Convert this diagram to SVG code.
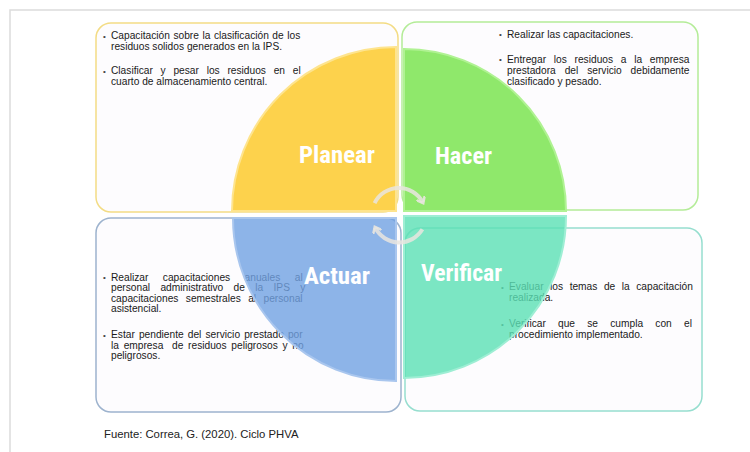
<svg xmlns="http://www.w3.org/2000/svg" width="750" height="452" viewBox="0 0 750 452">
<defs>
<style>
.box{fill:#fdfcfe;stroke-width:1.5}
.t{font-family:"Liberation Sans",Arial,sans-serif;font-size:10.2px;fill:#1a1a1a}
.b{font-family:"Liberation Sans",Arial,sans-serif;font-size:8px;fill:#444}
.lbl{font-family:"Liberation Sans Narrow","Roboto Condensed","Liberation Sans",Arial,sans-serif;font-weight:bold;font-size:23px;fill:#ffffff}
.arc{fill:none;stroke:#e9e5df;stroke-width:4;stroke-opacity:0.85}
.foot{font-family:"Liberation Sans",Arial,sans-serif;font-size:11.3px;fill:#222}
</style>
<marker id="ah" viewBox="0 0 10 10" refX="5" refY="5" markerWidth="10" markerHeight="10" markerUnits="userSpaceOnUse" orient="auto">
<path d="M1,1 L6,5 L1,9" fill="none" stroke="#e9e5df" stroke-opacity="0.9" stroke-width="2.5" stroke-linecap="round"/>
</marker>
</defs>
<rect width="750" height="452" fill="#ffffff"/>
<path d="M10,452 V10 H750" fill="none" stroke="#dcdcdc" stroke-width="1.5"/>

<g id="planear">
<rect class="box" x="96" y="23" width="302" height="189" rx="15" stroke="#f3dc85"/>
<text class="b" x="103" y="38.5">•</text>
<text class="t" x="111" y="39" word-spacing="0.7">Capacitación sobre la clasificación de los</text>
<text class="t" x="111" y="50">residuos solidos generados en la IPS.</text>
<text class="b" x="103" y="73.5">•</text>
<text class="t" x="111" y="74" word-spacing="4.9">Clasificar y pesar los residuos en el</text>
<text class="t" x="111" y="85">cuarto de almacenamiento central.</text>
<path d="M396,211 L232,211 A164,164 0 0 1 396,47 Z" fill="#fdd24c" stroke="#fee48e" stroke-width="2"/>
<text class="lbl" x="299" y="163" textLength="76" lengthAdjust="spacingAndGlyphs">Planear</text>
</g>

<g id="hacer">
<rect class="box" x="402" y="22" width="296" height="188" rx="15" stroke="#b4ec98"/>
<text class="b" x="499" y="37">•</text>
<text class="t" x="507" y="38">Realizar las capacitaciones.</text>
<text class="b" x="499" y="62">•</text>
<text class="t" x="507" y="63" word-spacing="4.9">Entregar los residuos a la empresa</text>
<text class="t" x="507" y="74" word-spacing="6.1">prestadora del servicio debidamente</text>
<text class="t" x="507" y="85">clasificado y pesado.</text>
<path d="M404,211 L404,49 A162,162 0 0 1 566,211 Z" fill="#8fe86b" stroke="#b0f293" stroke-width="2"/>
<text class="lbl" x="435" y="164" textLength="57" lengthAdjust="spacingAndGlyphs">Hacer</text>
</g>

<g id="actuar">
<rect class="box" x="96" y="218" width="305" height="194" rx="15" stroke="#9db3ce"/>
<text class="b" x="103" y="280">•</text>
<text class="t" x="111" y="280.5" word-spacing="11.6">Realizar capacitaciones anuales al</text>
<text class="t" x="111" y="291" word-spacing="7.5">personal administrativo de la IPS y</text>
<text class="t" x="111" y="301.5" word-spacing="4.6">capacitaciones semestrales al personal</text>
<text class="t" x="111" y="312">asistencial.</text>
<text class="b" x="103" y="337.5">•</text>
<text class="t" x="111" y="338" word-spacing="1.3">Estar pendiente del servicio prestado por</text>
<text class="t" x="111" y="348.5" word-spacing="1.9">la empresa <tspan dx="4">de residuos peligrosos y no</tspan></text>
<text class="t" x="111" y="359">peligrosos.</text>
<path d="M396,218 L396,381 A163,163 0 0 1 233,218 Z" fill="#70a1e2" fill-opacity="0.8" stroke="#a9c6ee" stroke-width="2"/>
<text class="lbl" x="304" y="284" textLength="66" lengthAdjust="spacingAndGlyphs">Actuar</text>
</g>

<g id="verificar">
<rect class="box" x="405" y="228" width="297" height="183" rx="15" stroke="#96decf"/>
<text class="b" x="501" y="289.5">•</text>
<text class="t" x="509" y="290" word-spacing="3.7">Evaluar los temas de la capacitación</text>
<text class="t" x="509" y="301">realizada.</text>
<text class="b" x="501" y="326.5">•</text>
<text class="t" x="509" y="327" word-spacing="9.4">Verificar que se cumpla con el</text>
<text class="t" x="509" y="338">procedimiento implementado.</text>
<path d="M404,216 L566,216 A162,162 0 0 1 404,378 Z" fill="#5ae0b4" fill-opacity="0.8" stroke="#9eeed4" stroke-width="2"/>
<text class="lbl" x="421" y="281" textLength="81" lengthAdjust="spacingAndGlyphs">Verificar</text>
</g>

<g id="connectors">
<path class="arc" d="M374.6,203.2 A27,27 0 0 1 422.8,202.3" marker-end="url(#ah)"/>
<path class="arc" d="M422.4,229.3 A27,27 0 0 1 375.2,227.7" marker-end="url(#ah)"/>
</g>

<text class="foot" x="104" y="438">Fuente: Correa, G. (2020). Ciclo PHVA</text>
</svg>
